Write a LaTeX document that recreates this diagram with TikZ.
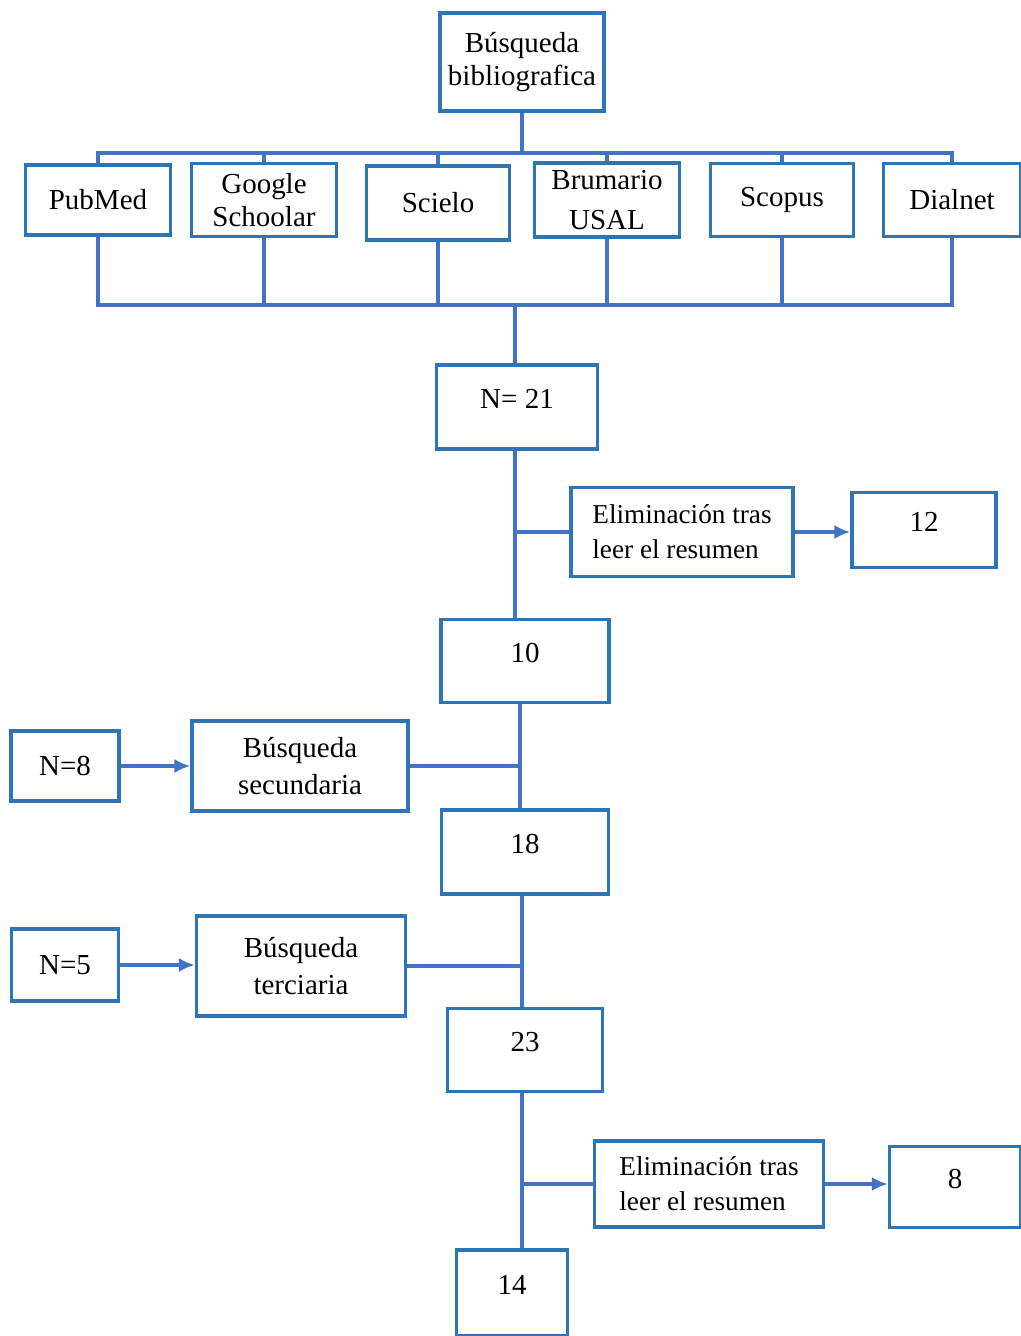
\documentclass[tikz,border=0pt]{standalone}
\usepackage{fontspec}
\setmainfont{Liberation Serif}
\usetikzlibrary{arrows.meta}
\definecolor{boxblue}{RGB}{46,117,182}
\definecolor{lineblue}{RGB}{68,114,196}
\begin{document}
\begin{tikzpicture}[
x=0.02cm, y=-0.02cm,
box/.style={rectangle, draw=boxblue, fill=white, line width=2pt, inner sep=0pt, align=center, font=\fontsize{16.5}{19}\selectfont},
numbox/.style={box, text height=12pt, text depth=10pt},
elimbox/.style={box, align=left, font=\fontsize{15.5}{20}\selectfont},
link/.style={draw=lineblue, line width=1.8pt},
arrow/.style={link, -{Latex[length=9pt,width=8pt]}},
]
\useasboundingbox (0,0) rectangle (1021,1336);
%Nodes
\node[box, minimum width=3.28cm, minimum height=1.96cm] (busqueda) at (522,62) {Búsqueda\\bibliografica};
\node[box, minimum width=2.9cm, minimum height=1.4cm] (pubmed) at (98,200) {PubMed};
\node[box, minimum width=2.9cm, minimum height=1.46cm] (google) at (264,200) {Google\\Schoolar};
\node[box, minimum width=2.86cm, minimum height=1.48cm] (scielo) at (438,203) {Scielo};
\node[box, minimum width=2.9cm, minimum height=1.48cm, font=\fontsize{16.5}{23}\selectfont] (brumario) at (607,200) {Brumario\\USAL};
\node[box, minimum width=2.86cm, minimum height=1.46cm] (scopus) at (782,200) {Scopus};
\node[box, minimum width=2.74cm, minimum height=1.46cm] (dialnet) at (952,200) {Dialnet};
\node[numbox, minimum width=3.22cm, minimum height=1.68cm] (n21) at (517,407) {N= 21};
\node[elimbox, minimum width=4.44cm, minimum height=1.78cm] (elim_a) at (682,532) {Eliminación tras\\leer el resumen};
\node[numbox, minimum width=2.88cm, minimum height=1.5cm] (n12) at (924,530) {12};
\node[numbox, minimum width=3.36cm, minimum height=1.66cm] (n10) at (525,661) {10};
\node[box, minimum width=2.16cm, minimum height=1.4cm] (n8) at (65,766) {N=8};
\node[box, minimum width=4.32cm, minimum height=1.8cm, font=\fontsize{16.5}{21}\selectfont] (secundaria) at (300,766) {Búsqueda\\secundaria};
\node[numbox, minimum width=3.34cm, minimum height=1.68cm] (n18) at (525,852) {18};
\node[box, minimum width=2.14cm, minimum height=1.44cm] (n5) at (65,965) {N=5};
\node[box, minimum width=4.18cm, minimum height=2cm, font=\fontsize{16.5}{21}\selectfont] (terciaria) at (301,966) {Búsqueda\\terciaria};
\node[numbox, minimum width=3.1cm, minimum height=1.66cm] (n23) at (525,1050) {23};
\node[elimbox, minimum width=4.58cm, minimum height=1.72cm] (elim_b) at (709,1184) {Eliminación tras\\leer el resumen};
\node[numbox, minimum width=2.62cm, minimum height=1.62cm] (n8b) at (955,1187) {8};
\node[numbox, minimum width=2.22cm, minimum height=1.72cm] (n14) at (512,1293) {14};
\coordinate (topbus) at (522,153);
\coordinate (botbus) at (515,305);

%Lines
\draw[link] (busqueda.south) -- (topbus);
\foreach \db in {pubmed,google,scielo,brumario,scopus,dialnet}
  \draw[link] (\db.north) |- (topbus);
\foreach \db in {pubmed,google,scielo,brumario,scopus,dialnet}
  \draw[link] (\db.south) |- (botbus);
\draw[link] (botbus) -- (botbus |- n21.north);
\draw[link] (n21.south -| botbus) -- (n10.north -| botbus);
\draw[link] (elim_a.west -| botbus) -- (elim_a.west);
\draw[arrow] (elim_a.east) -- (elim_a.east -| n12.west);
\draw[link] ([xshift=-0.1cm]n10.south) -- ([xshift=-0.1cm]n18.north);
\draw[arrow] (n8) -- (secundaria);
\draw[link] (secundaria.east) -- ([xshift=-0.1cm]secundaria.east -| n10.south);
\draw[link] ([xshift=-0.06cm]n18.south) -- ([xshift=-0.06cm]n23.north);
\draw[arrow] (n5) -- (n5 -| terciaria.west);
\draw[link] (terciaria.east) -- ([xshift=-0.06cm]terciaria.east -| n18.south);
\draw[link] ([xshift=-0.06cm]n23.south) -- ([xshift=-0.06cm]n23.south |- n14.north);
\draw[link] ([xshift=-0.06cm]n23.south |- elim_b.west) -- (elim_b.west);
\draw[arrow] (elim_b.east) -- (elim_b.east -| n8b.west);

\end{tikzpicture}
\end{document}
